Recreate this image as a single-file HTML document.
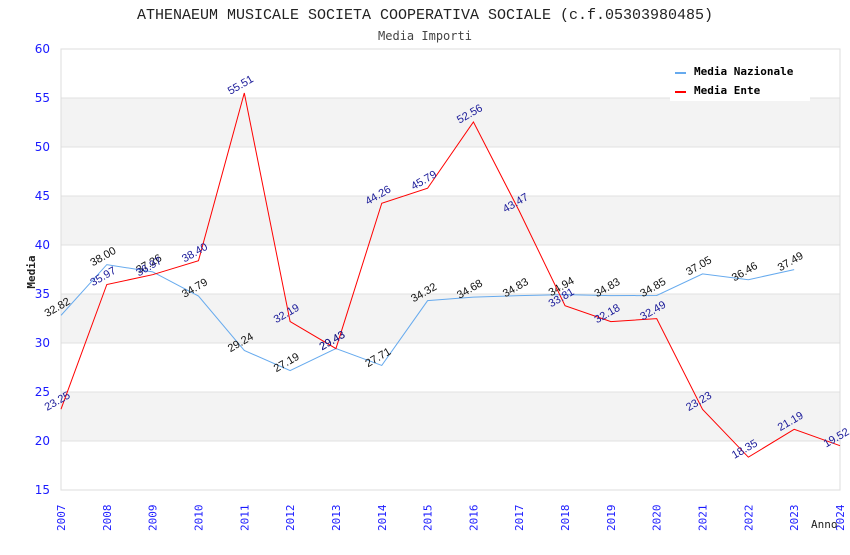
<!DOCTYPE html>
<html><head><meta charset="utf-8"><style>
body{margin:0;background:#fff}
.mono{font-family:"DejaVu Sans Mono","Liberation Mono",monospace}
</style></head><body>
<svg id="chart" width="850" height="550" xmlns="http://www.w3.org/2000/svg">
<text x="425" y="19" text-anchor="middle" font-size="15" fill="#222" style="font-family:'Liberation Mono',monospace">ATHENAEUM MUSICALE SOCIETA COOPERATIVA SOCIALE (c.f.05303980485)</text>
<text class="mono" x="425" y="40" text-anchor="middle" font-size="12" fill="#444">Media Importi</text>
<g id="bands"></g><g id="grid"></g>
<rect x="61" y="49" width="779" height="441" fill="none" stroke="#ddd"/>
<g id="yticks"></g><g id="xticks"></g>
<text class="mono" transform="translate(35,272) rotate(-90)" text-anchor="middle" font-size="11" font-weight="bold" fill="#222">Media</text>
<text class="mono" x="811" y="528" font-size="11" fill="#222">Anno</text>
<g id="series"></g>
<g>
<rect x="670" y="60" width="140" height="41" fill="#fff"/>
<line x1="675" y1="73" x2="686" y2="73" stroke="#66aaee" stroke-width="2"/>
<text class="mono" x="694" y="75" font-size="11" font-weight="bold" fill="#000">Media Nazionale</text>
<line x1="675" y1="92" x2="686" y2="92" stroke="red" stroke-width="2"/>
<text class="mono" x="694" y="94" font-size="11" font-weight="bold" fill="#000">Media Ente</text>
</g>
</svg>
<script>
const years=[2007,2008,2009,2010,2011,2012,2013,2014,2015,2016,2017,2018,2019,2020,2021,2022,2023,2024];
const nazionale=[32.82,38.00,37.26,34.79,29.24,27.19,29.43,27.71,34.32,34.68,34.83,34.94,34.83,34.85,37.05,36.46,37.49,null];
const ente=[23.25,35.97,36.97,38.40,55.51,32.19,29.43,44.26,45.79,52.56,43.47,33.81,32.18,32.49,23.23,18.35,21.19,19.52];
const yTicks=[15,20,25,30,35,40,45,50,55,60];
const NS="http://www.w3.org/2000/svg";
const X0=61,X1=840,Y0=490,Y1=49,YMIN=15,YMAX=60;
const xs=i=>X0+(X1-X0)*i/(years.length-1);
const ys=v=>Y0-(v-YMIN)/(YMAX-YMIN)*(Y0-Y1);
function mk(t,a,p){const e=document.createElementNS(NS,t);for(const k in a)e.setAttribute(k,a[k]);p.appendChild(e);return e;}
const bands=document.getElementById('bands'),grid=document.getElementById('grid'),yt=document.getElementById('yticks'),xt=document.getElementById('xticks'),ser=document.getElementById('series');
for(let i=0;i<yTicks.length-1;i++){
  if(i%2==1){const r=mk('rect',{x:X0,y:ys(yTicks[i+1]),width:X1-X0,height:ys(yTicks[i])-ys(yTicks[i+1]),fill:'#f3f3f3'},bands);
  
  }
}
yTicks.forEach(v=>{
  const l=mk('line',{x1:X0,x2:X1,y1:ys(v),y2:ys(v),stroke:'#e0e0e0'},grid);
  
  
  const t=mk('text',{x:50,y:ys(v)+4,'text-anchor':'end','font-size':'12',fill:'#1a1aff','font-family':'"DejaVu Sans",sans-serif'},yt);
  
  
  t.textContent=v;
});
years.forEach((y,i)=>{
  const t=mk('text',{transform:`translate(${xs(i)+4},531) rotate(-90)`,'font-size':'11',fill:'#1a1aff','class':'mono'},xt);
  
  
  t.textContent=y;
});
function draw(vals,color,lblColor,name){
  const pts=[];vals.forEach((v,i)=>{if(v!=null)pts.push(xs(i)+','+ys(v));});
  const p=mk('polyline',{points:pts.join(' '),fill:'none',stroke:color,'stroke-width':'1'},ser);
  
  
  vals.forEach((v,i)=>{if(v==null)return;
    const t=mk('text',{transform:`translate(${xs(i)-2},${ys(v)-5}) rotate(-30)`,'text-anchor':'middle','font-size':'11',fill:lblColor,'font-family':'"Liberation Sans",sans-serif'},ser);
    
    
    t.textContent=v.toFixed(2);
  });
}
draw(nazionale,'#66aaee','#111','nazionale');
draw(ente,'red','#1a1a99','ente');
</script>
</body></html>
